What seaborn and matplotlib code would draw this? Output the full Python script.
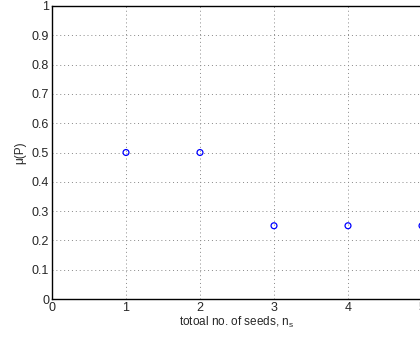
import numpy as np
import pandas as pd
import matplotlib
matplotlib.use('Agg')
import matplotlib.pyplot as plt
import seaborn as sns

# data
n_seeds = [1, 2, 3, 4, 5]
mu_p = [0.5, 0.5, 0.25, 0.25, 0.25]

sns.set_style('white')
plt.rcParams['font.family'] = ['Liberation Sans', 'DejaVu Sans']
plt.rcParams['mathtext.fontset'] = 'custom'
plt.rcParams['mathtext.rm'] = 'Liberation Sans'

df = pd.DataFrame({'n': n_seeds, 'mu': mu_p})

fig = plt.figure(figsize=(4.2, 3.4), dpi=100)
ax = fig.add_axes([52/420, 41/340, 370/420, 293/340])

sns.scatterplot(data=df, x='n', y='mu', ax=ax, marker='o', s=18,
                facecolor='none', edgecolor='blue', linewidth=0.9, zorder=3)

ax.set_xlim(0, 5)
ax.set_ylim(0, 1)
ax.set_xticks(np.arange(0, 6, 1))
ax.set_yticks(np.round(np.arange(0, 1.01, 0.1), 1))
ax.set_yticklabels(['0', '0.1', '0.2', '0.3', '0.4', '0.5', '0.6', '0.7', '0.8', '0.9', '1'])
ax.grid(True, linestyle=(0, (1, 3)), color='#888888', linewidth=0.7)
ax.tick_params(direction='in', length=3, labelsize=9, color='black', pad=2)
for sp in ax.spines.values():
    sp.set_color('black')
    sp.set_linewidth(1.0)

ax.set_xlabel('totoal no. of seeds, $\\mathrm{n_s}$', fontsize=8.5, labelpad=1)
ax.set_ylabel('μ(P)', fontsize=8.5, labelpad=4)

fig.savefig('out.png', dpi=100)
